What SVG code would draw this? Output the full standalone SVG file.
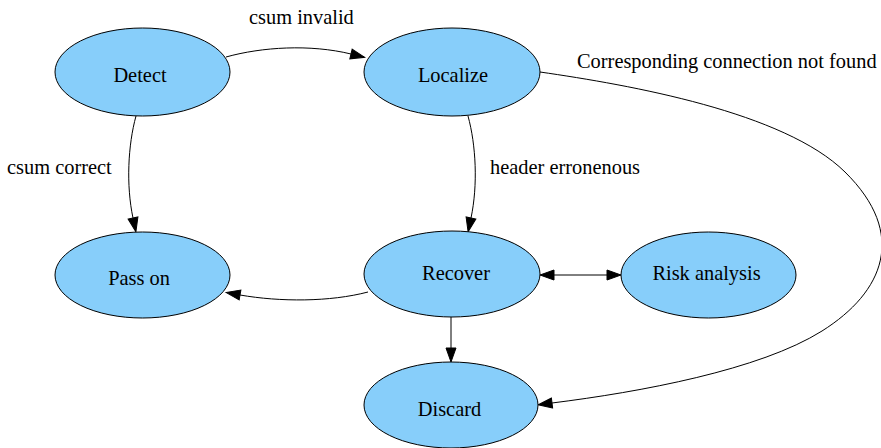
<svg xmlns="http://www.w3.org/2000/svg" width="881" height="448" viewBox="0 0 881 448">
  <style>
    .node ellipse { fill: #87cefa; stroke: #000; stroke-width: 1; }
    .node text, .label { font-family: "Liberation Serif", "Times New Roman", serif; font-size: 20.4px; fill: #000; }
    .node text { text-anchor: middle; }
    .edge { fill: none; stroke: #000; stroke-width: 1; marker-end: url(#arrow); }
    .both { marker-start: url(#arrow); }
  </style>
  <defs>
    <marker id="arrow" markerUnits="userSpaceOnUse" markerWidth="15" markerHeight="11" refX="0" refY="5" orient="auto-start-reverse" viewBox="0 0 15 10" overflow="visible">
      <path d="M0,0 L14,5 L0,10 Z" fill="#000" stroke="#000" stroke-width="1"/>
    </marker>
  </defs>
  <rect width="881" height="448" fill="#fff"/>

  <g id="connectors">
    <path class="edge" d="M226,57 C262,47 310,44 351,54"/>
    <path class="edge" d="M136,116 C128,145 126,185 133,218"/>
    <path class="edge" d="M468,116 C476,145 478,185 471,218"/>
    <path class="edge" d="M368,292 C330,302 280,302 240,295"/>
    <path class="edge both" d="M554,275 L607,275"/>
    <path class="edge" d="M451,317 L451,348"/>
    <path class="edge" d="M540,72 C630,85 784,112 845,172 C908,234 884,292 822,331 C760,370 640,392 552,403"/>
    <text class="label" x="249" y="24">csum invalid</text>
    <text class="label" x="7" y="174">csum correct</text>
    <text class="label" x="490" y="174">header erronenous</text>
    <text class="label" x="577" y="68">Corresponding connection not found</text>
  </g>

  <g id="detect" class="node">
    <ellipse cx="142.5" cy="72" rx="87.5" ry="44"/>
    <text x="140" y="82">Detect</text>
  </g>
  <g id="localize" class="node">
    <ellipse cx="452" cy="72" rx="88" ry="44"/>
    <text x="453" y="82">Localize</text>
  </g>
  <g id="pass-on" class="node">
    <ellipse cx="142.5" cy="275" rx="87.5" ry="43"/>
    <text x="139" y="285">Pass on</text>
  </g>
  <g id="recover" class="node">
    <ellipse cx="452" cy="274" rx="88" ry="43"/>
    <text x="456" y="280">Recover</text>
  </g>
  <g id="risk-analysis" class="node">
    <ellipse cx="708.5" cy="275" rx="87.5" ry="43"/>
    <text x="706.5" y="280">Risk analysis</text>
  </g>
  <g id="discard" class="node">
    <ellipse cx="451" cy="405" rx="87" ry="43"/>
    <text x="449.5" y="416">Discard</text>
  </g>
</svg>
